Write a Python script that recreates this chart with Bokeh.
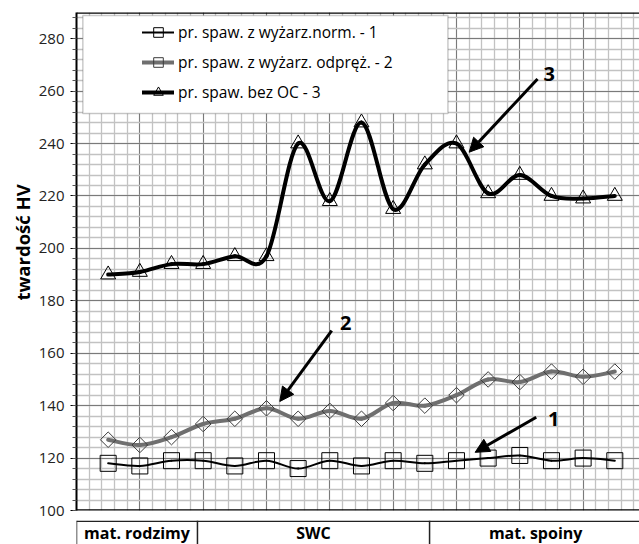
import numpy as np
from math import pi
from bokeh.plotting import figure
from bokeh.layouts import column
from bokeh.models import (Range1d, SingleIntervalTicker, Span, BoxAnnotation, Legend,
                          LegendItem, Arrow, NormalHead, Title, ColumnDataSource)
from bokeh.embed import file_html
from bokeh.resources import INLINE
from bokeh.core.properties import value

# ---------------- data ----------------
positions = list(range(1, 18))
series1 = [118, 117, 119, 119, 117, 119, 116, 119, 117, 119, 118, 119, 120, 121, 119, 120, 119]
series2 = [127, 125, 128, 133, 135, 139, 135, 138, 135, 141, 140, 144, 150, 149, 153, 151, 153]
series3 = [190, 191, 194, 194, 197, 197, 240, 218, 248, 215, 232, 240, 221, 228, 220, 219, 220]
series_names = ["pr. spaw. z wyżarz.norm. - 1",
                "pr. spaw. z wyżarz. odpręż. - 2",
                "pr. spaw. bez OC - 3"]
y_title = "twardość HV"
zone_names = ["mat. rodzimy", "SWC", "mat. spoiny"]
zone_edges = [0, 3.82, 11.15, 17.85]
callout_text = ["1", "2", "3"]
callout_x = [15.07, 8.50, 14.93]
callout_y = [135.1, 171.7, 266.5]
arrow_x0 = [14.52, 8.06, 14.56]
arrow_y0 = [135.6, 168.6, 264.6]
arrow_x1 = [12.59, 6.42, 12.40]
arrow_y1 = [122.2, 141.6, 236.7]

FONT = "Open Sans"


def smooth_source(xs, ys):
    """Bezier control points for a smoothed line through the data points."""
    xs = np.asarray(xs, float)
    ys = np.asarray(ys, float)
    n = len(xs)
    d = dict(x0=[], y0=[], x1=[], y1=[], cx0=[], cy0=[], cx1=[], cy1=[])
    for i in range(n - 1):
        a = i - 1 if i > 0 else i
        b = i + 2 if i + 2 < n else i + 1
        d["x0"].append(xs[i]); d["y0"].append(ys[i])
        d["x1"].append(xs[i + 1]); d["y1"].append(ys[i + 1])
        d["cx0"].append(xs[i] + (xs[i + 1] - xs[a]) / 6)
        d["cy0"].append(ys[i] + (ys[i + 1] - ys[a]) / 6)
        d["cx1"].append(xs[i + 1] - (xs[b] - xs[i]) / 6)
        d["cy1"].append(ys[i + 1] - (ys[b] - ys[i]) / 6)
    return ColumnDataSource(d)


# ---------------- main chart ----------------
p = figure(width=639, height=520, output_backend="svg", toolbar_location=None,
           x_range=Range1d(0, 17.78), y_range=Range1d(100, 290),
           min_border_left=76, min_border_right=0, min_border_top=12, min_border_bottom=10)
p.outline_line_color = None
p.background_fill_color = "white"
p.xaxis.visible = False

p.xgrid.ticker = SingleIntervalTicker(interval=2, num_minor_ticks=5)
p.ygrid.ticker = SingleIntervalTicker(interval=20, num_minor_ticks=5)
for g in (p.xgrid, p.ygrid):
    g.grid_line_color = "#7a7a7a"
    g.grid_line_width = 1
    g.minor_grid_line_color = "#c2c2c2"
    g.minor_grid_line_width = 1.3

ax = p.yaxis[0]
ax.ticker = SingleIntervalTicker(interval=20, num_minor_ticks=5)
ax.axis_line_color = "black"
ax.axis_line_width = 2
ax.major_tick_in = 0
ax.major_tick_out = 6
ax.minor_tick_in = 0
ax.minor_tick_out = 4
ax.major_tick_line_color = "black"
ax.minor_tick_line_color = "#555555"
ax.major_label_standoff = 6
ax.major_label_text_font = FONT
ax.major_label_text_font_size = "15px"
ax.major_label_text_color = "#222222"

# y-axis title (as a left-side title so it can sit above the frame centre)
p.add_layout(Title(text=y_title, align="left", offset=210, standoff=1,
                   text_font=FONT, text_font_style="bold", text_font_size="18.5px",
                   text_color="black"), "left")

# frame borders (top and bottom)
p.add_layout(Span(location=290, dimension="width", line_color="black", line_width=2.5))
p.add_layout(Span(location=100, dimension="width", line_color="black", line_width=2.5))

# series
b1 = p.bezier(x0="x0", y0="y0", x1="x1", y1="y1", cx0="cx0", cy0="cy0", cx1="cx1", cy1="cy1",
              source=smooth_source(positions, series1), line_color="black", line_width=2,
              line_cap="round")
b2 = p.bezier(x0="x0", y0="y0", x1="x1", y1="y1", cx0="cx0", cy0="cy0", cx1="cx1", cy1="cy1",
              source=smooth_source(positions, series2), line_color="#6f6f6f", line_width=4,
              line_cap="round")
b3 = p.bezier(x0="x0", y0="y0", x1="x1", y1="y1", cx0="cx0", cy0="cy0", cx1="cx1", cy1="cy1",
              source=smooth_source(positions, series3), line_color="black", line_width=4,
              line_cap="round")
m1 = p.scatter(positions, series1, marker="square", size=16, fill_alpha=0,
               line_color="black", line_width=1)
m2 = p.scatter(positions, series2, marker="square", angle=pi / 4, size=11, fill_alpha=0,
               line_color="#3c3c3c", line_width=1)
m3 = p.scatter(positions, series3, marker="triangle", size=15, fill_alpha=0,
               line_color="black", line_width=1)

# legend box + legend
p.add_layout(BoxAnnotation(left=0.2, right=11.73, top=288.9, bottom=251.5,
                           fill_color="white", fill_alpha=1,
                           line_color="#505050", line_width=1.5))
legend = Legend(items=[LegendItem(label=series_names[0], renderers=[b1, m1]),
                       LegendItem(label=series_names[1], renderers=[b2, m2]),
                       LegendItem(label=series_names[2], renderers=[b3, m3])],
                location=(66, 406), orientation="vertical", padding=0, margin=0,
                spacing=6, glyph_width=32, glyph_height=24, label_height=24,
                label_standoff=4, label_text_font=FONT, label_text_font_size="15.5px",
                label_text_color="black",
                border_line_alpha=0, background_fill_alpha=0)
p.add_layout(legend)

# callout arrows and numbers
for xs, ys, xe, ye in zip(arrow_x0, arrow_y0, arrow_x1, arrow_y1):
    p.add_layout(Arrow(end=NormalHead(size=14, fill_color="black", line_color="black",
                                      line_width=1),
                       x_start=xs, y_start=ys, x_end=xe, y_end=ye,
                       line_color="black", line_width=3))
p.text(x=callout_x, y=callout_y, text=callout_text, text_font=value(FONT),
       text_font_style="bold", text_font_size="20px", text_color="black",
       text_align="center", text_baseline="middle")

# ---------------- category strip ----------------
s = figure(width=639, height=24, output_backend="svg", toolbar_location=None,
           x_range=p.x_range, y_range=Range1d(0, 24),
           min_border_left=76, min_border_right=0, min_border_top=0, min_border_bottom=0)
s.axis.visible = False
s.grid.visible = False
s.outline_line_color = None
s.add_layout(Span(location=23.2, dimension="width", line_color="#222222", line_width=1.5))
for e in zone_edges[:-1]:
    s.add_layout(Span(location=e, dimension="height", line_color="#222222", line_width=1.5))
centers = [(zone_edges[i] + zone_edges[i + 1]) / 2 for i in range(len(zone_names))]
s.text(x=centers, y=[12] * len(zone_names), text=zone_names, text_font=value(FONT),
       text_font_style="bold", text_font_size="16px", text_color="black",
       text_align="center", text_baseline="middle")

layout = column(p, s, spacing=0)
open("out.html", "w").write(file_html(layout, INLINE))
